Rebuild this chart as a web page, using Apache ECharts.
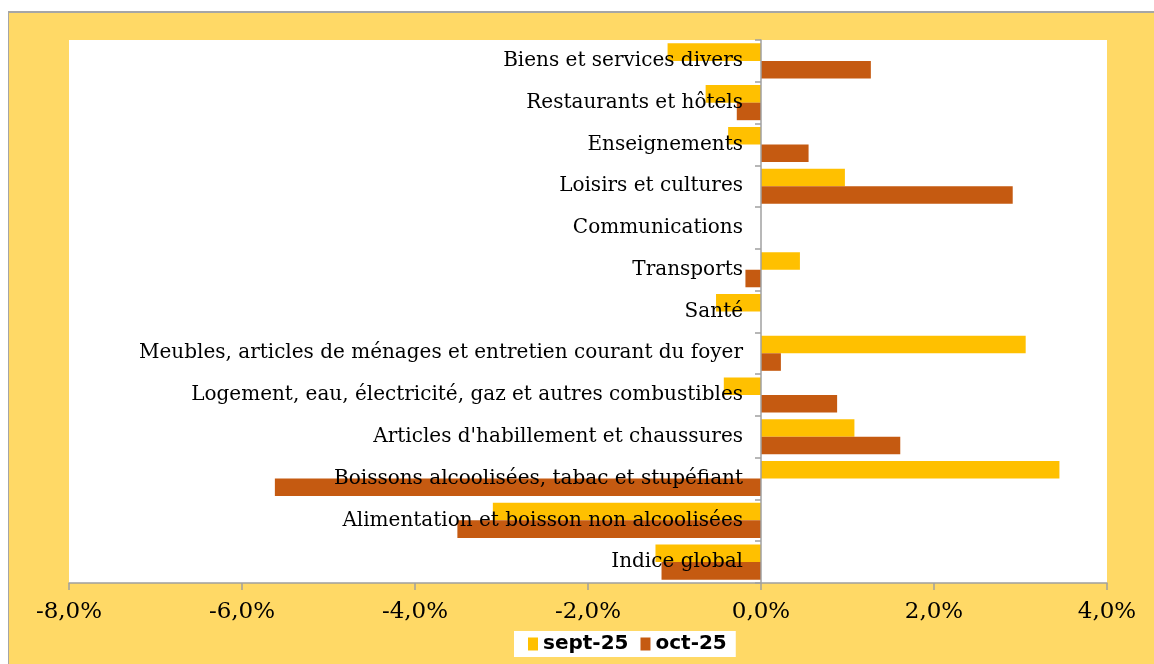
<!DOCTYPE html>
<html>
<head>
<meta charset="utf-8">
<title>Variation IHPC</title>
<script src="https://cdn.jsdelivr.net/npm/echarts@6/dist/echarts.min.js"></script>
<style>
  html, body { margin: 0; padding: 0; background: #fff; overflow: hidden; }
  #cadre {
    position: absolute; left: 8px; top: 11px; width: 1146px; height: 653px;
    box-sizing: border-box;
    background: #FFD966; border-left: 1px solid #a6a6a6; border-top: 2px solid #a6a6a6;
  }
  #mains { position: absolute; left: 0; top: 0; width: 1154px; height: 664px; }
</style>
</head>
<body>
<div id="cadre"></div>
<div id="mains"></div>
<script>
// catégories, du haut vers le bas
var categories = [
  'Biens et services divers',
  'Restaurants et hôtels',
  'Enseignements',
  'Loisirs et cultures',
  'Communications',
  'Transports',
  'Santé',
  'Meubles, articles de ménages et entretien courant du foyer',
  'Logement, eau, électricité, gaz et autres combustibles',
  "Articles d'habillement et chaussures",
  'Boissons alcoolisées, tabac et stupéfiant',
  'Alimentation et boisson non alcoolisées',
  'Indice global'
];
var sept25 = [-1.08, -0.64, -0.38, 0.97, 0, 0.45, -0.52, 3.06, -0.43, 1.08, 3.45, -3.10, -1.22];
var oct25 = [1.27, -0.28, 0.55, 2.91, 0, -0.18, 0, 0.23, 0.88, 1.61, -5.62, -3.51, -1.15];
var xTicks = { min: -8, max: 4, step: 2 };

var gridLeft = 69, gridRight = 47;
var gridWidth = 1154 - gridLeft - gridRight;
// l'axe des catégories (ligne + libellés) est placé sur le zéro
var yOffset = -(0 - xTicks.min) / (xTicks.max - xTicks.min) * gridWidth;

function pct(v) {
  return v.toFixed(1).replace('.', ',') + '%';
}

var myChart = echarts.init(document.getElementById('mains'));
myChart.setOption({
  backgroundColor: 'transparent',
  animation: false,
  graphic: [{
    type: 'text',
    x: 90,
    y: -23,
    z: 100,
    style: {
      text: "Graphique 3 : Variation mensuelle de l'IHPC et de ses composantes par fonction de consommation",
      font: 'bold 24px "DejaVu Serif"',
      fill: '#000'
    }
  }],
  legend: {
    data: ['sept-25', 'oct-25'],
    left: 514,
    top: 631,
    backgroundColor: '#fff',
    padding: [3, 9, 3, 14],
    itemWidth: 10,
    itemHeight: 13,
    itemGap: 12,
    icon: 'rect',
    textStyle: { fontFamily: 'DejaVu Sans', fontWeight: 'bold', fontSize: 20, color: '#000' }
  },
  grid: {
    left: gridLeft,
    right: gridRight,
    top: 40,
    bottom: 81,
    show: true,
    backgroundColor: '#fff',
    borderWidth: 0,
    outerBoundsMode: 'none'
  },
  xAxis: {
    type: 'value',
    min: xTicks.min,
    max: xTicks.max,
    interval: xTicks.step,
    axisLine: { show: true, lineStyle: { color: '#a0a0a0', width: 1.5 } },
    axisTick: { show: true, length: 7, lineStyle: { color: '#a0a0a0', width: 1.5 } },
    splitLine: { show: false },
    axisLabel: {
      formatter: pct,
      margin: 18,
      fontFamily: 'DejaVu Serif',
      fontSize: 23,
      color: '#000'
    }
  },
  yAxis: {
    type: 'category',
    data: categories,
    inverse: true,
    offset: yOffset,
    z: 10,
    axisLine: { onZero: false, lineStyle: { color: '#a0a0a0', width: 1.5 } },
    axisTick: { show: true, length: 6, lineStyle: { color: '#a0a0a0', width: 1.5 } },
    axisLabel: {
      margin: 18,
      fontFamily: 'DejaVu Serif',
      fontSize: 20,
      color: '#000'
    }
  },
  series: [
    {
      name: 'sept-25',
      type: 'bar',
      data: sept25,
      barGap: '0%',
      barCategoryGap: '16%',
      itemStyle: { color: '#FFC000' }
    },
    {
      name: 'oct-25',
      type: 'bar',
      data: oct25,
      itemStyle: { color: '#C55A11' }
    }
  ]
});

window.addEventListener('resize', function () {
  myChart.resize();
});
</script>
</body>
</html>
